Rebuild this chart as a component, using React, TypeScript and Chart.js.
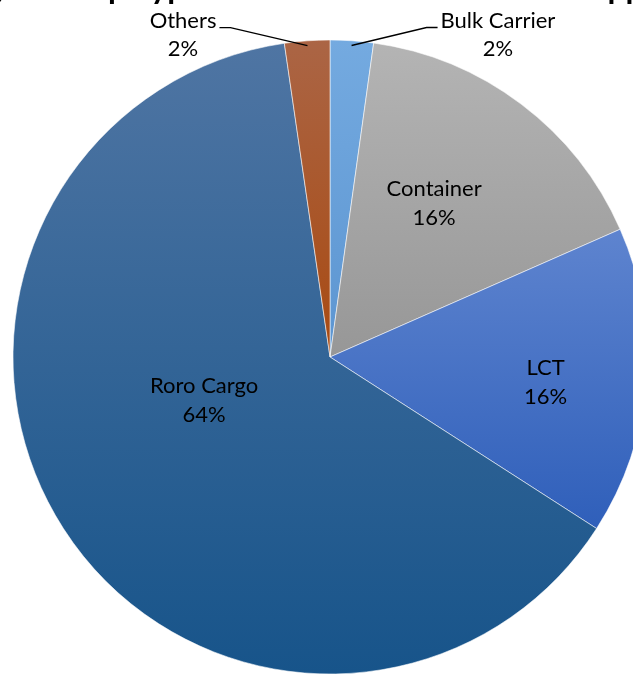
import React, { useEffect, useRef } from "react";
import { Chart, registerables } from "chart.js";

Chart.register(...registerables);

// ---- data ----
const categories = ["Bulk Carrier", "Container", "LCT", "Roro Cargo", "Others"];
const shares = [2.2, 16.2, 15.7, 63.6, 2.3];
const percentLabels = ["2%", "16%", "16%", "64%", "2%"];
const topColors = ["#74aae0", "#b4b4b4", "#5e84cf", "#4f75a3", "#ab6545"];
const bottomColors = ["#5c95d1", "#979797", "#2f5fba", "#17548a", "#a84a12"];
const titleText = "Percentage of Ship Type Arrivals in Domestic Sea Shipping";

// ---- style / layout (not data) ----
const RADIUS = 317;
const LABEL_FONT = "22px Lato, 'Noto Sans', sans-serif";
const TITLE_FONT = "bold 32px Lato, 'Noto Sans', sans-serif";
const LINE_GAP = 29;
type Placement =
  | { kind: "inside"; along: number; radial: number }
  | { kind: "outside"; dx: number; dy: number };
const labelPlacement: Placement[] = [
  { kind: "outside", dx: 75, dy: -18 },
  { kind: "inside", along: 0.45, radial: 0.585 },
  { kind: "inside", along: 0.54, radial: 0.685 },
  { kind: "inside", along: 0.56, radial: 0.42 },
  { kind: "outside", dx: -77, dy: -18 },
];

function sliceGradient(ctx: any) {
  const i = ctx.dataIndex;
  if (i === undefined) return topColors[0];
  const chart = ctx.chart;
  const area = chart.chartArea;
  if (!area) return topColors[i];
  const cx = (area.left + area.right) / 2;
  const cy = (area.top + area.bottom) / 2;
  const total = shares.reduce((a, b) => a + b, 0);
  let cum = 0;
  for (let k = 0; k < i; k++) cum += shares[k];
  const a0 = -Math.PI / 2 + (2 * Math.PI * cum) / total;
  const a1 = a0 + (2 * Math.PI * shares[i]) / total;
  const ys = [cy, cy + RADIUS * Math.sin(a0), cy + RADIUS * Math.sin(a1)];
  for (const k of [-Math.PI / 2, Math.PI / 2, (3 * Math.PI) / 2]) {
    if (k >= a0 && k <= a1) ys.push(cy + RADIUS * Math.sin(k));
  }
  const y0 = Math.min(...ys);
  const y1 = Math.max(...ys);
  const g = chart.ctx.createLinearGradient(0, y0, 0, y1);
  g.addColorStop(0, topColors[i]);
  g.addColorStop(1, bottomColors[i]);
  return g;
}

const labelsPlugin = {
  id: "sliceLabels",
  afterDatasetsDraw(chart: any) {
    const ctx = chart.ctx;
    const meta = chart.getDatasetMeta(0);
    ctx.save();
    ctx.font = LABEL_FONT;
    ctx.fillStyle = "#000";
    ctx.textAlign = "center";
    ctx.textBaseline = "middle";
    meta.data.forEach((arc: any, i: number) => {
      const { x, y, startAngle, endAngle, outerRadius } = arc.getProps(
        ["x", "y", "startAngle", "endAngle", "outerRadius"],
        true
      );
      const p = labelPlacement[i];
      const lines = [categories[i], percentLabels[i]];
      if (p.kind === "inside") {
        const a = startAngle + p.along * (endAngle - startAngle);
        const r = p.radial * outerRadius;
        const lx = x + Math.cos(a) * r;
        const ly = y + Math.sin(a) * r;
        ctx.fillText(lines[0], lx, ly - LINE_GAP / 2);
        ctx.fillText(lines[1], lx, ly + LINE_GAP / 2);
      } else {
        const a = (startAngle + endAngle) / 2;
        const ax = x + Math.cos(a) * outerRadius * 0.985;
        const ay = y + Math.sin(a) * outerRadius * 0.985;
        const ex = ax + p.dx;
        const ey = ay + p.dy;
        const dir = Math.sign(p.dx);
        const tx = ex + dir * 11;
        ctx.strokeStyle = "#000";
        ctx.lineWidth = 1.3;
        ctx.beginPath();
        ctx.moveTo(ax, ay);
        ctx.lineTo(ex, ey);
        ctx.lineTo(tx, ey);
        ctx.stroke();
        const w = Math.max(...lines.map((s) => ctx.measureText(s).width));
        const cxText = tx + dir * (3 + w / 2);
        ctx.fillText(lines[0], cxText, ey - 7);
        ctx.fillText(lines[1], cxText, ey - 7 + 28);
      }
    });
    ctx.restore();
  },
};

const titlePlugin = {
  id: "croppedTitle",
  afterDraw(chart: any) {
    const ctx = chart.ctx;
    ctx.save();
    ctx.font = TITLE_FONT;
    ctx.fillStyle = "#000";
    ctx.textAlign = "left";
    ctx.textBaseline = "alphabetic";
    const pageLeft = -40;
    const prefix = ctx.measureText("Percentage of Shi").width;
    ctx.fillText(titleText, 108 - pageLeft - prefix, -1);
    ctx.restore();
  },
};

export default function App() {
  const ref = useRef<HTMLCanvasElement | null>(null);
  useEffect(() => {
    if (!ref.current) return;
    const chart = new Chart(ref.current, {
      type: "pie",
      data: {
        labels: categories,
        datasets: [
          {
            data: shares,
            backgroundColor: sliceGradient as any,
            borderColor: "rgba(255,255,255,0.55)",
            borderWidth: 1,
          },
        ],
      },
      options: {
        animation: false,
        responsive: true,
        maintainAspectRatio: false,
        radius: RADIUS,
        layout: { padding: 0 },
        plugins: {
          legend: { display: false },
          tooltip: { enabled: false },
          title: { display: false },
        },
      } as any,
      plugins: [labelsPlugin, titlePlugin],
    });
    return () => chart.destroy();
  }, []);
  return (
    <div
      style={{
        position: "fixed",
        left: 0,
        top: 0,
        width: 633,
        height: 675,
        overflow: "hidden",
        background: "#fff",
      }}
    >
      <div style={{ position: "absolute", left: -40, top: 0, width: 740, height: 714 }}>
        <canvas ref={ref} />
      </div>
    </div>
  );
}
